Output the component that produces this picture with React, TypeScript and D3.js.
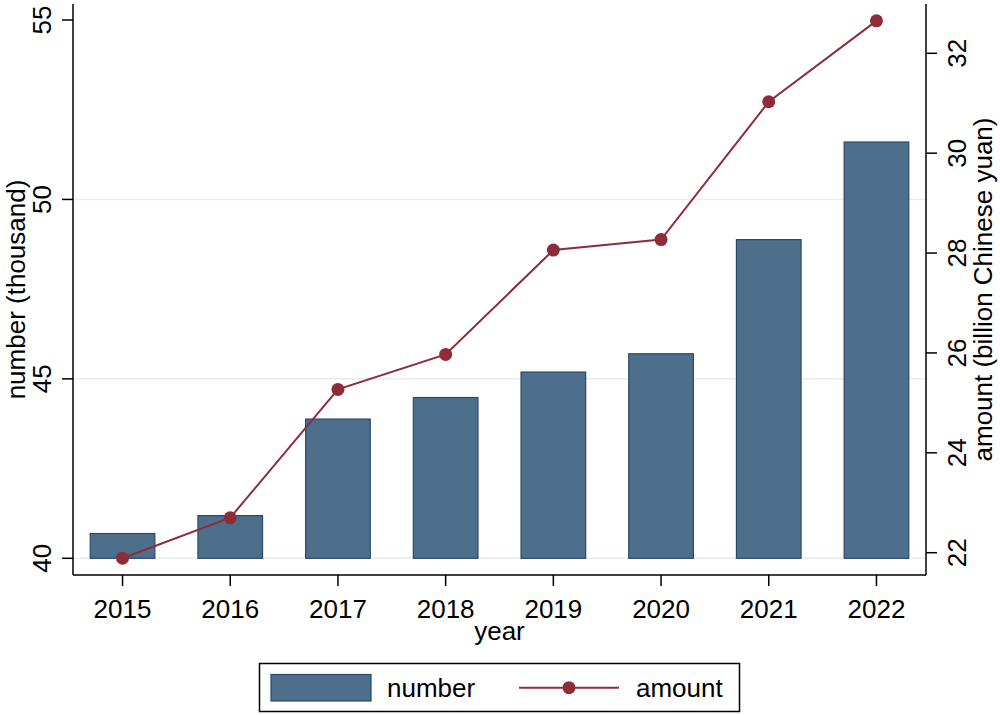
import React, { useEffect, useRef } from 'react';
import * as d3 from 'd3';

const years = [2015, 2016, 2017, 2018, 2019, 2020, 2021, 2022];
const numberThousand = [40.69, 41.19, 43.88, 44.48, 45.19, 45.7, 48.88, 51.6];
const amountBillion = [21.89, 22.7, 25.27, 25.97, 28.06, 28.27, 31.03, 32.65];
const leftTicks = [40, 45, 50, 55];
const rightTicks = [22, 24, 26, 28, 30, 32];

const FONT = '"Liberation Sans", Arial, sans-serif';
const BAR_FILL = '#4e6f8c';
const BAR_STROKE = '#28496b';
const LINE_COLOR = '#8e2c3a';
const GRID = '#e6eef1';

const App: React.FC = () => {
  const svgRef = useRef<SVGSVGElement>(null);

  useEffect(() => {
    if (!svgRef.current) return;
    const svg = d3.select(svgRef.current);
    svg.selectAll('*').remove();

    const plot = { left: 73, right: 926, top: 4, bottom: 575 };

    const x = d3.scaleLinear().domain([2014.54, 2022.46]).range([plot.left, plot.right]);
    const yL = d3.scaleLinear().domain([40, 55]).range([558.3, 20]);
    const yR = d3.scaleLinear().domain([22, 32]).range([552.7, 53.3]);
    const barW = x(2015.3) - x(2014.7);

    svg.append('rect').attr('width', 1000).attr('height', 715).attr('fill', '#fff');

    // gridlines (left axis only)
    svg.append('g')
      .selectAll('line')
      .data(leftTicks.filter(t => t < 55))
      .enter()
      .append('line')
      .attr('x1', plot.left)
      .attr('x2', plot.right)
      .attr('y1', d => yL(d))
      .attr('y2', d => yL(d))
      .attr('stroke', GRID)
      .attr('stroke-width', 1.5);

    // bars
    svg.append('g')
      .selectAll('rect')
      .data(numberThousand)
      .enter()
      .append('rect')
      .attr('x', (_, i) => x(years[i]) - barW / 2)
      .attr('y', d => yL(d))
      .attr('width', barW)
      .attr('height', d => yL(40) - yL(d))
      .attr('fill', BAR_FILL)
      .attr('stroke', BAR_STROKE)
      .attr('stroke-width', 1.2);

    // line + markers
    const line = d3.line<number>()
      .x((_, i) => x(years[i]))
      .y(d => yR(d));

    svg.append('path')
      .datum(amountBillion)
      .attr('d', line)
      .attr('fill', 'none')
      .attr('stroke', LINE_COLOR)
      .attr('stroke-width', 2);

    svg.append('g')
      .selectAll('circle')
      .data(amountBillion)
      .enter()
      .append('circle')
      .attr('cx', (_, i) => x(years[i]))
      .attr('cy', d => yR(d))
      .attr('r', 6.5)
      .attr('fill', LINE_COLOR);

    // axes lines
    const axisG = svg.append('g').attr('stroke', '#000').attr('stroke-width', 1.5);
    axisG.append('line').attr('x1', plot.left).attr('x2', plot.left).attr('y1', plot.top).attr('y2', plot.bottom);
    axisG.append('line').attr('x1', plot.right).attr('x2', plot.right).attr('y1', plot.top).attr('y2', plot.bottom);
    axisG.append('line').attr('x1', plot.left).attr('x2', plot.right).attr('y1', plot.bottom).attr('y2', plot.bottom);

    // left ticks
    leftTicks.forEach(t => {
      axisG.append('line').attr('x1', plot.left - 11).attr('x2', plot.left).attr('y1', yL(t)).attr('y2', yL(t));
      svg.append('text')
        .text(t)
        .attr('transform', `translate(51,${yL(t)}) rotate(-90)`)
        .attr('text-anchor', 'middle')
        .attr('font-family', FONT)
        .attr('font-size', 26);
    });

    // right ticks
    rightTicks.forEach(t => {
      axisG.append('line').attr('x1', plot.right).attr('x2', plot.right + 11).attr('y1', yR(t)).attr('y2', yR(t));
      svg.append('text')
        .text(t)
        .attr('transform', `translate(966,${yR(t)}) rotate(-90)`)
        .attr('text-anchor', 'middle')
        .attr('font-family', FONT)
        .attr('font-size', 26);
    });

    // bottom ticks
    years.forEach(yr => {
      axisG.append('line').attr('x1', x(yr)).attr('x2', x(yr)).attr('y1', plot.bottom).attr('y2', plot.bottom + 11);
      svg.append('text')
        .text(yr)
        .attr('x', x(yr))
        .attr('y', 618)
        .attr('text-anchor', 'middle')
        .attr('font-family', FONT)
        .attr('font-size', 26);
    });

    // axis titles
    svg.append('text')
      .text('year')
      .attr('x', (plot.left + plot.right) / 2)
      .attr('y', 640)
      .attr('text-anchor', 'middle')
      .attr('font-family', FONT)
      .attr('font-size', 26);

    svg.append('text')
      .text('number (thousand)')
      .attr('transform', `translate(25,${(plot.top + plot.bottom) / 2}) rotate(-90)`)
      .attr('text-anchor', 'middle')
      .attr('font-family', FONT)
      .attr('font-size', 26);

    svg.append('text')
      .text('amount (billion Chinese yuan)')
      .attr('transform', `translate(992,${(plot.top + plot.bottom) / 2}) rotate(-90)`)
      .attr('text-anchor', 'middle')
      .attr('font-family', FONT)
      .attr('font-size', 26);

    // legend
    const lg = svg.append('g');
    lg.append('rect')
      .attr('x', 259.5).attr('y', 663.5).attr('width', 480).attr('height', 48)
      .attr('fill', '#fff').attr('stroke', '#000').attr('stroke-width', 1.5);
    lg.append('rect')
      .attr('x', 271).attr('y', 674.5).attr('width', 100).attr('height', 26.5)
      .attr('fill', BAR_FILL).attr('stroke', BAR_STROKE).attr('stroke-width', 1.2);
    lg.append('text').text('number')
      .attr('x', 387).attr('y', 697)
      .attr('font-family', FONT).attr('font-size', 26);
    lg.append('line')
      .attr('x1', 519).attr('x2', 619).attr('y1', 687.7).attr('y2', 687.7)
      .attr('stroke', LINE_COLOR).attr('stroke-width', 2);
    lg.append('circle').attr('cx', 569).attr('cy', 687.7).attr('r', 6.5).attr('fill', LINE_COLOR);
    lg.append('text').text('amount')
      .attr('x', 636).attr('y', 697)
      .attr('font-family', FONT).attr('font-size', 26);
  }, []);

  return (
    <svg
      ref={svgRef}
      width={1000}
      height={715}
      style={{ position: 'absolute', left: 0, top: 0, display: 'block' }}
    />
  );
};

export default App;
